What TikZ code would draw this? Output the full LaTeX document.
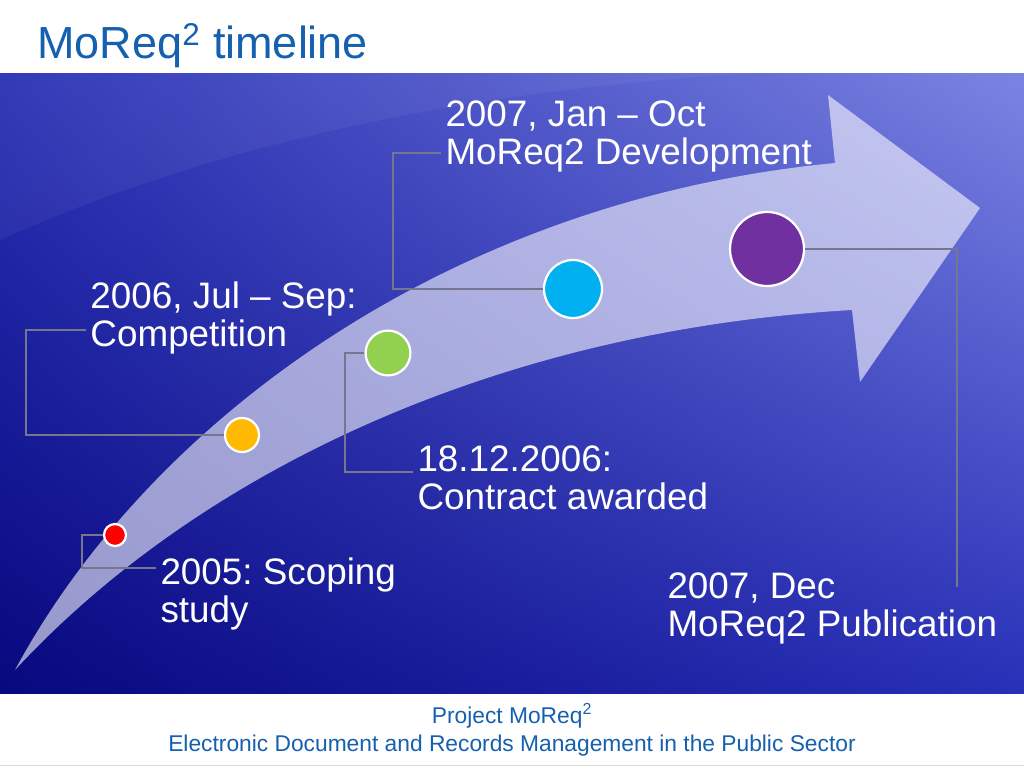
\documentclass[tikz,border=0pt]{standalone}
\usepackage{fontspec}
\setmainfont{Liberation Sans}
\usepackage{xcolor}
\usepackage{tikz}
\usetikzlibrary{positioning}
\usetikzlibrary{calc}
\usetikzlibrary{shadings}
\frenchspacing
\definecolor{titleblue}{RGB}{22,96,176}
\definecolor{bgdark}{RGB}{8,8,126}
\definecolor{bgmid}{RGB}{40,48,184}
\definecolor{bgtop}{RGB}{40,48,180}
\definecolor{bglight}{RGB}{124,132,226}
\definecolor{linegray}{RGB}{118,118,142}
\definecolor{dotred}{RGB}{255,0,0}
\definecolor{dotyellow}{RGB}{255,185,0}
\definecolor{dotgreen}{RGB}{146,208,80}
\definecolor{dotcyan}{RGB}{0,176,240}
\definecolor{dotpurple}{RGB}{112,48,160}
\tikzstyle{dot} = [circle, draw=white, line width=1.6pt, inner sep=0pt]
\tikzstyle{tag} = [anchor=north west, align=left, text=white, inner sep=3pt,
  font=\fontsize{26.2}{27.4}\selectfont]
\tikzstyle{conn} = [draw=linegray, line width=1.5pt]
\newcommand{\linkdot}[3]{ %
  % dot #1 to bend #2, then over to label #3
  \draw[conn] (#1.west) -| (#2) -- (#2 -| #3.west) ;%
}

\begin{document}
\begin{tikzpicture}[x=0.25mm, y=-0.25mm]
  \useasboundingbox (0,0) rectangle (1024,768);
  \fill[white] (0,0) rectangle (1024,768);
  % backdrop
  \shade[upper left=bgtop, upper right=bglight, lower left=bgdark, lower right=bgmid]
    (0,73) rectangle (1024,693);
  \fill[white, opacity=0.05] (0,73) -- (0,240) .. controls (200,150) and (450,90) .. (760,73) -- cycle;
  \draw[gray!30, line width=0.6pt] (0,765) -- (1024,765);
  % arrow
  \fill[white, opacity=0.58] (15,670) .. controls (150,420) and (450,200) .. (835,163)
    -- (828,95) -- (980,208) -- (860,382) -- (852,310)
    .. controls (500,330) and (200,470) .. (15,670) -- cycle;

  % title
  \node[anchor=base west, inner sep=0pt, text=titleblue, font=\fontsize{32}{38}\selectfont]
    (title) at (37,58) {MoReq\textsuperscript{2} timeline};
  % footer
  \node[align=center, inner sep=0pt, text=titleblue, font=\fontsize{16.2}{20}\selectfont]
    (foot) at (512,730) {Project MoReq\textsuperscript{2}\\Electronic Document and Records Management in the Public Sector};

  % bends
  \coordinate (b1) at (82,568);
  \coordinate (b2) at (26,330);
  \coordinate (b3) at (345,472);
  \coordinate (b4) at (393,153);
  \coordinate (b5) at (957,587);

  % dots
  \node[dot, fill=dotred,    minimum size=5.5mm]   (red)    at (115,535) {};
  \node[dot, fill=dotyellow, minimum size=8.5mm]   (yellow) at (242,435) {};
  \node[dot, fill=dotgreen,  minimum size=11.2mm]  (green)  at (388,353) {};
  \node[dot, fill=dotcyan,   minimum size=14.5mm]  (cyan)   at (573,289) {};
  \node[dot, fill=dotpurple, minimum size=18.5mm]  (purple) at (767,249) {};

  % labels
  \node[tag] (scoping)   at (156,553) {2005: Scoping\\study};
  \node[tag] (compet)    at (86,277)  {2006, Jul -- Sep:\\Competition};
  \node[tag] (contract)  at (413,441) {18.12.2006:\\Contract awarded};
  \node[tag] (develop)   at (441,96)  {2007, Jan -- Oct\\MoReq2 Development};
  \node[tag] (publish)   at (663,568) {2007, Dec\\MoReq2 Publication};

  % edges
  \linkdot {red} {b1} {scoping}
  \linkdot {yellow} {b2} {compet}
  \linkdot {green} {b3} {contract}
  \linkdot {cyan} {b4} {develop}
  \draw[conn] (purple.east) -| (b5);
\end{tikzpicture}
\end{document}
